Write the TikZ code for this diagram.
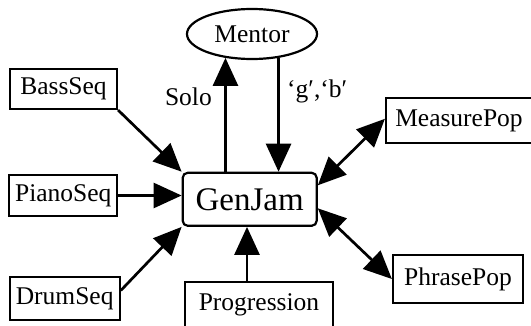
\documentclass[tikz,border=0pt]{standalone}
\usepackage{fontspec}
\setmainfont{Liberation Serif}
\usetikzlibrary{arrows.meta,shapes.geometric}
\begin{document}
\begin{tikzpicture}[x=1pt,y=-1pt,
  txt/.style={font=\fontsize{25.5}{30}\selectfont},
  box/.style={txt,draw,line width=2.2pt,inner sep=0pt},
  tip/.tip={Triangle[length=28pt,width=25pt]},
  edge/.style={line width=2.7pt,-tip},
  bidir/.style={line width=2.7pt,tip-tip},
  lab/.style={txt,inner sep=0pt}]
\useasboundingbox (0,0) rectangle (531,326);
\node[box,ellipse,minimum width=130pt,minimum height=50pt] (mentor) at (252,34) {Mentor};
\node[box,rounded corners=5pt,minimum width=134pt,minimum height=53pt,font=\fontsize{33}{38}\selectfont] (gen) at (249.7,199.3) {GenJam};
\node[box,minimum width=107pt,minimum height=40pt] (bass) at (63.5,89) {BassSeq};
\node[box,minimum width=108pt,minimum height=41pt] (piano) at (63.3,195.5) {PianoSeq};
\node[box,minimum width=110pt,minimum height=43pt] (drum) at (64.7,298.5) {DrumSeq};
\node[box,minimum width=148pt,minimum height=46pt] (prog) at (259,305) {Progression};
\node[box,minimum width=146pt,minimum height=45pt] (measure) at (459,120.8) {MeasurePop};
\node[box,minimum width=130pt,minimum height=48pt] (phrase) at (458,279) {PhrasePop};
\node[lab,anchor=east] (solo) at (212,97) {Solo};
\node[lab,anchor=west] (gb) at (287,91) {‘g′,‘b′};
\draw[edge] (bass.south east) -- (gen.north west);
\draw[edge] (piano.east) -- (piano.east -| gen.west);
\draw[edge] ([yshift=8pt]drum.east) -- (gen.south west);
\draw[edge] ([xshift=-12pt]prog.north) -- ([xshift=-12pt]prog.north |- gen.south);
\draw[edge] (gen.north -| mentor.222) -- (mentor.222);
\draw[edge] (mentor.318) -- (mentor.318 |- gen.north);
\draw[bidir] ([yshift=14pt]gen.east) -- ([yshift=2pt]measure.west);
\draw[bidir] ([yshift=-9pt]gen.east) -- (phrase.west);
\end{tikzpicture}
\end{document}
